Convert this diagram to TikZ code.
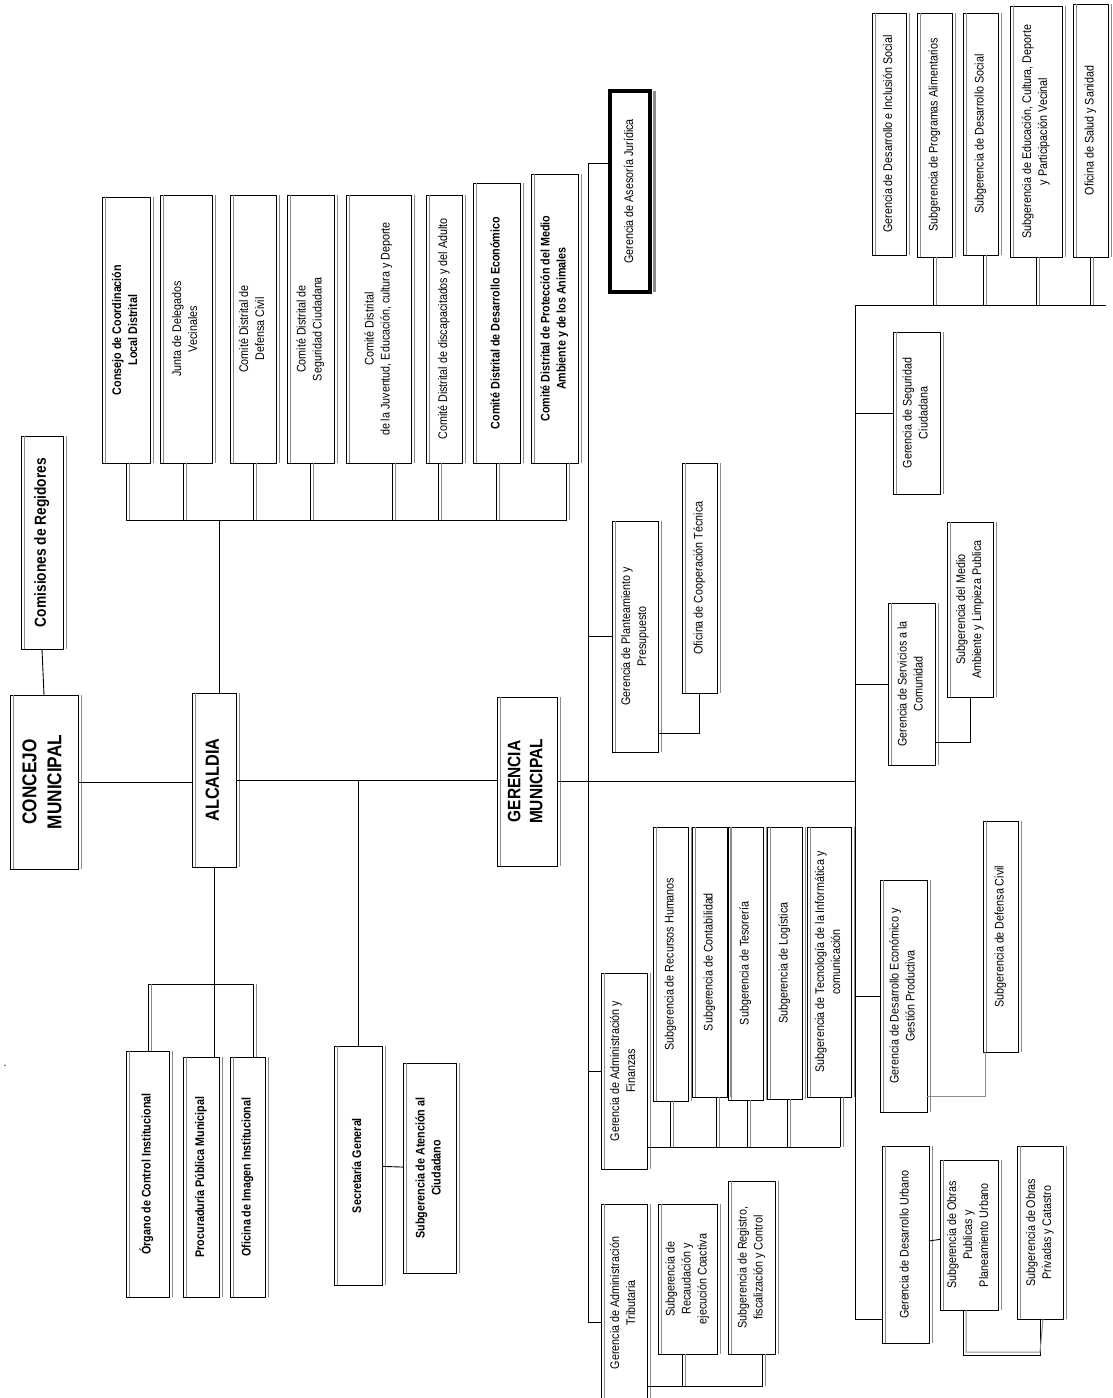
\documentclass[tikz,border=0pt]{standalone}
\usepackage{fontspec}
\setmainfont{Liberation Sans}[FakeStretch=0.86]
\usepackage{graphicx}
\usetikzlibrary{calc}

\newcommand{\vtxt}[1]{\rotatebox{90}{\begin{tabular}{@{}c@{}}#1\end{tabular}}}

\tikzset{
  area/.style n args={4}{minimum width={#3-#1}, minimum height={#4-#2},
    at={(#1/2+#3/2, #2/2+#4/2)}},
  box/.style={draw, line width=1pt, inner sep=0pt, outer sep=0pt,
    font=\fontsize{12.5}{16}\selectfont},
  bbox/.style={box, font=\fontsize{12.5}{16}\selectfont\bfseries},
  big/.style={box, font=\fontsize{20}{25}\selectfont\bfseries},
  lk/.style={line width=0.9pt},
  gl/.style={draw=black!45, line width=1pt},
}

\begin{document}
\begin{tikzpicture}[x=1pt, y=-1pt]
\path[use as bounding box, fill=white] (0,0) rectangle (1113,1398);

% council and mayor
\node[big, area={10}{695}{78}{869}] (cm) {\vtxt{CONCEJO\\MUNICIPAL}};
\node[big, area={192}{693}{236}{867}, font=\fontsize{19}{24}\selectfont\bfseries] (alc) {\vtxt{ALCALDIA}};
\node[big, area={497}{697}{557}{866}, font=\fontsize{18}{22}\selectfont\bfseries] (gm) {\vtxt{GERENCIA\\MUNICIPAL}};
\node[bbox, area={21}{436}{63}{649}, font=\fontsize{16}{19}\selectfont\bfseries] (cr) {\vtxt{Comisiones de Regidores}};
\node[font=\fontsize{12}{14}\selectfont] (dot) at (5,1066) {.};

% committees
\node[bbox, area={102}{197}{150}{463}] (ccl) {\vtxt{Consejo de Coordinación\\Local Distrital}};
\node[box, area={160}{195}{212}{463}] (jdv) {\vtxt{Junta de Delegados\\Vecinales}};
\node[box, area={230}{195}{276}{463}] (cdc) {\vtxt{Comité Distrital de\\Defensa Civil}};
\node[box, area={287}{195}{334}{463}] (csc) {\vtxt{Comité Distrital de\\Seguridad Ciudadana}};
\node[box, area={346}{195}{411}{463}] (cju) {\vtxt{Comité Distrital\\de la Juventud, Educación, cultura y Deporte}};
\node[box, area={426}{195}{462}{463}] (cda) {\vtxt{Comité Distrital de discapacitados y del Adulto}};
\node[bbox, area={473}{183}{520}{463}] (cde) {\vtxt{Comité Distrital de Desarrollo Económico}};
\node[bbox, area={531}{174}{578}{463}] (cpm) {\vtxt{Comité Distrital de Protección del Medio\\Ambiente y de los Animales}};

% offices under the mayor
\node[bbox, area={126}{1051}{169}{1297}] (ogc) {\vtxt{Órgano de Control Institucional}};
\node[bbox, area={183}{1057}{219}{1297}] (ppm) {\vtxt{Procuraduría Pública Municipal}};
\node[bbox, area={230}{1057}{265}{1297}] (oii) {\vtxt{Oficina de Imagen Institucional}};
\node[bbox, area={334}{1046}{382}{1285}] (sg) {\vtxt{Secretaría General}};
\node[bbox, area={403}{1063}{456}{1273}] (sac) {\vtxt{Subgerencia de Atención al\\Ciudadano}};

% gerencias
\node[box, line width=4pt, area={610}{91}{650}{292}] (gaj) {\vtxt{Gerencia de Asesoría Jurídica}};
\node[box, area={612}{521}{658}{752}] (gpp) {\vtxt{Gerencia de Planteamiento y\\Presupuesto}};
\node[box, area={682}{463}{717}{693}] (oct) {\vtxt{Oficina de Cooperación Técnica}};
\node[box, area={601}{973}{647}{1169}] (gaf) {\vtxt{Gerencia de Administración y\\Finanzas}};
\node[box, area={653}{827}{688}{1101}] (srh) {\vtxt{Subgerencia de Recursos Humanos}};
\node[box, area={692}{827}{727}{1097}] (sco) {\vtxt{Subgerencia de Contabilidad}};
\node[box, area={728}{827}{763}{1100}] (ste) {\vtxt{Subgerencia de Tesorería}};
\node[box, area={767}{827}{802}{1099}] (slo) {\vtxt{Subgerencia de Logística}};
\node[box, area={807}{827}{851}{1097}] (stic) {\vtxt{Subgerencia de Tecnología de la Informática y\\comunicación}};
\node[box, area={601}{1204}{647}{1402}] (gat) {\vtxt{Gerencia de Administración\\Tributaria}};
\node[box, area={658}{1204}{717}{1354}] (srec) {\vtxt{Subgerencia de\\Recaudación y\\ejecución Coactiva}};
\node[box, area={728}{1181}{775}{1354}] (sreg) {\vtxt{Subgerencia de Registro,\\fiscalización y Control}};

\node[box, area={872}{13}{906}{255}] (gdis) {\vtxt{Gerencia de Desarrollo e Inclusión Social}};
\node[box, area={917}{13}{952}{257}] (spa) {\vtxt{Subgerencia de Programas Alimentarios}};
\node[box, area={963}{13}{998}{255}] (sds) {\vtxt{Subgerencia de Desarrollo Social}};
\node[box, area={1010}{6}{1062}{257}] (sed) {\vtxt{Subgerencia de Educación, Cultura, Deporte\\y Participación Vecinal}};
\node[box, area={1073}{4}{1108}{257}] (oss) {\vtxt{Oficina de Salud y Sanidad}};
\node[box, area={893}{332}{940}{494}] (gsc) {\vtxt{Gerencia de Seguridad\\Ciudadana}};
\node[box, area={947}{522}{993}{697}] (sma) {\vtxt{Subgerencia del Medio\\Ambiente y Limpieza Publica}};
\node[box, area={888}{603}{935}{765}] (gsv) {\vtxt{Gerencia de Servicios a la\\Comunidad}};
\node[box, area={880}{880}{927}{1112}] (gde) {\vtxt{Gerencia de Desarrollo Económico y\\Gestión Productiva}};
\node[box, area={983}{821}{1018}{1052}] (sdc) {\vtxt{Subgerencia de Defensa Civil}};
\node[box, area={882}{1146}{929}{1343}] (gdu) {\vtxt{Gerencia de Desarrollo Urbano}};
\node[box, area={940}{1160}{998}{1310}] (sop) {\vtxt{Subgerencia de Obras\\Publicas y\\Planeamiento Urbano}};
\node[box, area={1017}{1146}{1063}{1319}] (sopc) {\vtxt{Subgerencia de Obras\\Privadas y Catastro}};

% grey second edge of every box
\foreach \n in {cm,alc,gm,cr,ccl,jdv,cdc,csc,cju,cda,cde,cpm,ogc,ppm,oii,sg,sac,
    gpp,oct,gaf,srh,sco,ste,slo,stic,gat,srec,sreg,gdis,spa,sds,sed,oss,
    gsc,sma,gsv,gde,sdc,gdu,sop,sopc} {
  \draw[gl] ([xshift=3pt]\n.north west) -- ([xshift=3pt]\n.south west);
  \draw[gl] ([xshift=3pt]\n.north east) -- ([xshift=3pt]\n.south east);
}
\draw[gl, line width=3pt] ([xshift=4pt]gaj.north east) -- ([xshift=4pt]gaj.south east);

% connectors
\coordinate (cb) at (126,520);
\coordinate (ob) at (149,984);
\coordinate (g1) at (588,163);
\coordinate (s1) at (855,305);
\coordinate (fb) at (647,1147);
\coordinate (tb) at (647,1386);

\draw[lk] (cm.east) -- (cm.east -| alc.west);
\draw[lk] (cm.north) -- (cr.south);
\draw[lk] ([xshift=5pt]alc.north) coordinate (t) -- (t |- cb);
\draw[lk] (ccl.south |- cb) -- ($(cpm.south |- cb)+(12,0)$);
\foreach \n/\s in {ccl/0,jdv/-3,cdc/0,csc/0,cju/14,cda/-6,cde/0,cpm/12} {
  \draw[lk] ([xshift=\s pt]\n.south) coordinate (t) -- (t |- cb);
  \draw[gl] ($(t)+(3,0)$) -- ($(t |- cb)+(3,0)$);
}

\draw[lk] (alc.south) -- (alc.south |- ppm.north);
\draw[lk] (ogc.north |- ob) -- ($(oii.north |- ob)+(6,0)$);
\foreach \n/\s in {ogc/1,oii/6} {
  \draw[lk] ([xshift=\s pt]\n.north) coordinate (t) -- (t |- ob);
  \draw[gl] ($(t)+(3,0)$) -- ($(t |- ob)+(3,0)$);
}

\draw[lk] (sg.north) -- (sg.north |- alc.east);
\draw[lk] (sg) -- (sac);
\draw[lk] (alc.east) -- (alc.east -| gm.west);
\draw[lk] (gm.east) -- (gm.east -| s1);

\draw[lk] (g1) -- (g1 -| gaj.west);
\draw[lk] (g1) |- ([yshift=-19pt]gat.west);
\draw[lk] (gpp.west) -- (gpp.west -| g1);
\draw[lk] (gaf.west) -- (gaf.west -| g1);
\draw[lk] (oct.south) |- ([yshift=19pt]gpp.south east);

\draw[lk] (gaf.east |- fb) -- ($(stic.south |- fb)+(11,0)$);
\foreach \n/\s in {srh/0,sco/7,ste/2,slo/3,stic/11} {
  \draw[lk] ([xshift=\s pt]\n.south) coordinate (t) -- (t |- fb);
  \draw[gl] ($(t)+(3,0)$) -- ($(t |- fb)+(3,0)$);
}
\draw[lk] (gat.east |- tb) -- ($(sreg.south |- tb)+(11,0)$);
\foreach \n/\s in {srec/-5,sreg/11} {
  \draw[lk] ([xshift=\s pt]\n.south) coordinate (t) -- (t |- tb);
  \draw[gl] ($(t)+(3,0)$) -- ($(t |- tb)+(3,0)$);
}

\draw[lk] (s1) |- ([yshift=24pt]gdu.south west);
\draw[lk] (s1) -- ($(oss.south |- s1)+(15,0)$);
\foreach \n/\s in {spa/-1,sds/3,sed/0,oss/0} {
  \draw[lk] ([xshift=\s pt]\n.south) coordinate (t) -- (t |- s1);
  \draw[gl] ($(t)+(3,0)$) -- ($(t |- s1)+(3,0)$);
}
\draw[lk] (gsc.west) -- (gsc.west -| s1);
\draw[lk] (gsv.west) -- (gsv.west -| s1);
\draw[lk] (gde.west) -- (gde.west -| s1);
\draw[lk] (sma.south) |- ([yshift=23pt]gsv.south east);
\draw[gl] ([xshift=-15pt]sdc.south) |- ([yshift=16pt]gde.south east);
\draw[lk] (gdu) -- (sop);
\draw[lk] ([xshift=-6pt]sop.south) |- ([yshift=-36pt]sopc.south) -- (sopc.south);
\draw[gl] ([xshift=-3pt]sop.south) |- ([yshift=-33pt]sopc.south) -- ([xshift=3pt]sopc.south);
\end{tikzpicture}
\end{document}
